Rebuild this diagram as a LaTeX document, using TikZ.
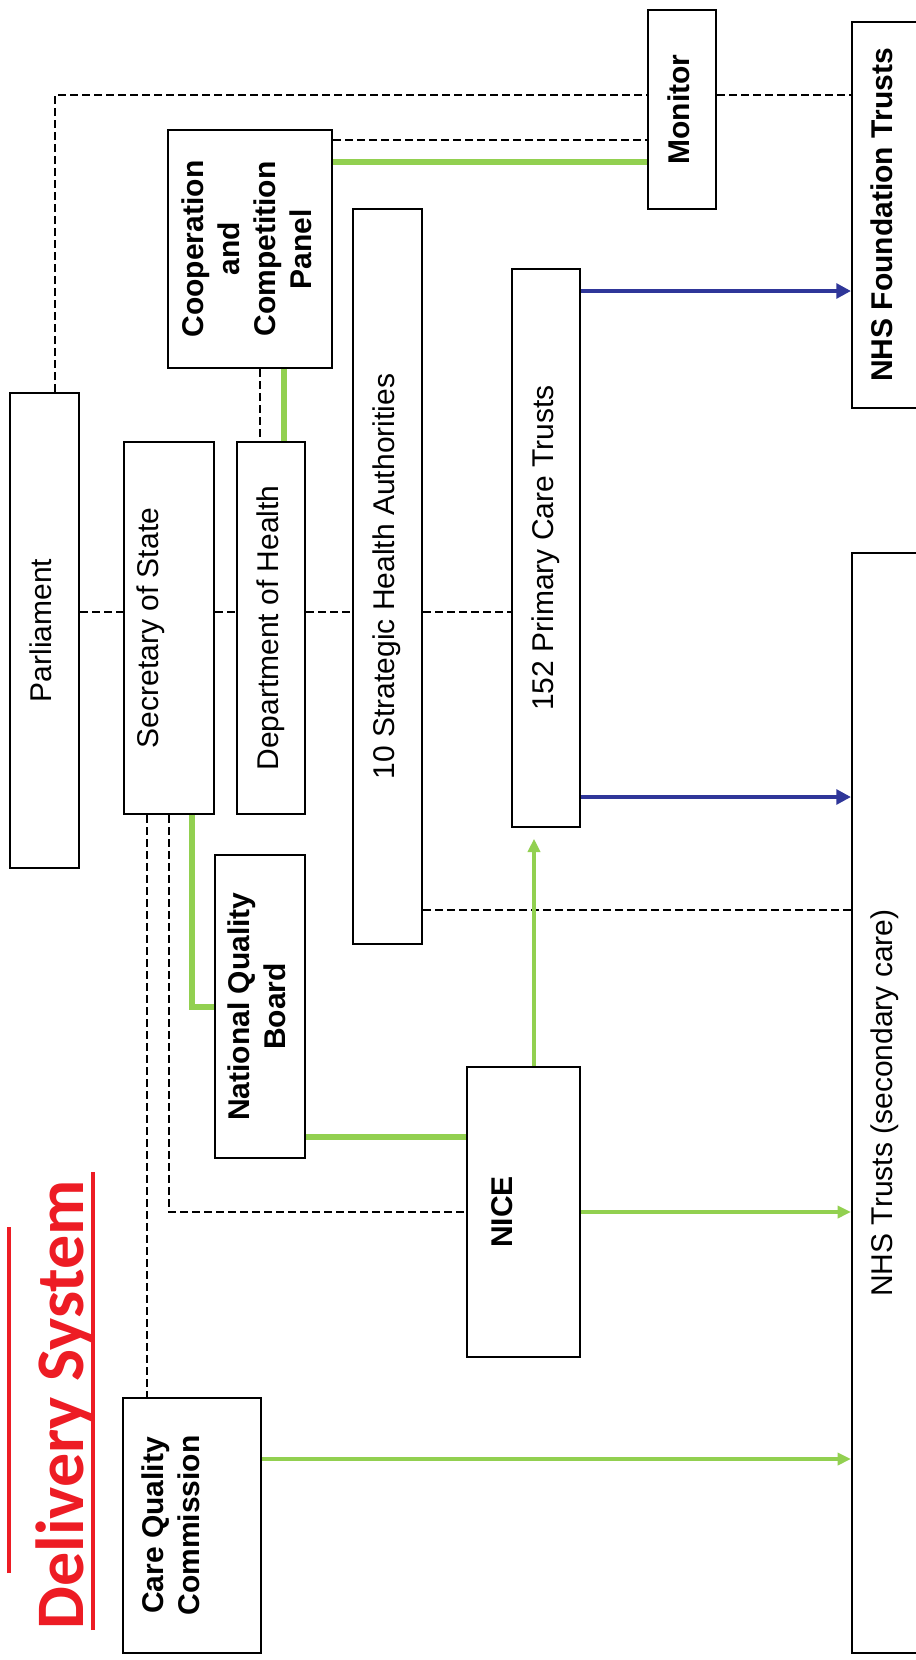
\documentclass[tikz,border=0pt]{standalone}
\usepackage{fontspec}
\setmainfont{Liberation Sans}
\newfontfamily\titlefont{Carlito}
\usetikzlibrary{arrows.meta}
\definecolor{nhsgreen}{RGB}{146,208,80}
\definecolor{nhsblue}{RGB}{47,54,153}
\definecolor{nhsred}{RGB}{237,28,36}
\def\vtext#1{\rotatebox{90}{\begin{tabular}{@{}c@{}}#1\end{tabular}}}

\begin{document}
\begin{tikzpicture}[x=0.75pt,y=0.75pt,yscale=-1,xscale=1,
	box/.style={draw, line width=1.5pt, fill=white, inner sep=0pt, font=\fontsize{22.5}{27}\selectfont},
	boldbox/.style={box, font=\fontsize{22.5}{27}\selectfont\bfseries},
	dline/.style={line width=1.5pt, dash pattern=on 6pt off 3pt},
	gline/.style={nhsgreen, line width=4.5pt},
	garrow/.style={nhsgreen, line width=3pt, -{Triangle[length=10pt,width=9pt]}},
	barrow/.style={nhsblue, line width=3.5pt, -{Triangle[length=11pt,width=11pt]}}]
		\useasboundingbox (0,0) rectangle (916,1660);
		\clip (0,0) rectangle (916,1660);
		% title
		\node[rotate=90, anchor=base west, inner sep=0pt, text=nhsred, font=\titlefont\bfseries\fontsize{51}{60}\selectfont] (title) at (83,1630) {Delivery System};
		\draw[nhsred, line width=3.5pt] (93,1630) -- (93,1172);
		\draw[nhsred, line width=3.5pt] (9,1573) -- (9,1227);
		% boxes
		\node[box, minimum width=51.75pt, minimum height=356.25pt] (parl) at (44.5,630.5) {\vtext{Parliament}};
		\node[box, minimum width=67.5pt, minimum height=279pt] (sos) at (169,628) {\vtext{Secretary of State\\~}};
		\node[box, minimum width=51pt, minimum height=279pt] (doh) at (271,628) {\vtext{Department of Health}};
		\node[boldbox, minimum width=123pt, minimum height=178.5pt] (ccp) at (250,249) {\vtext{Cooperation\\and\\Competition\\Panel}};
		\node[box, minimum width=51.75pt, minimum height=551.25pt] (sha) at (387.5,576.5) {\vtext{10 Strategic Health Authorities}};
		\node[box, minimum width=51pt, minimum height=418.5pt] (pct) at (546,548) {\vtext{152 Primary Care Trusts}};
		\node[boldbox, minimum width=51pt, minimum height=149.25pt] (mon) at (682,109.5) {\vtext{Monitor}};
		\node[boldbox, minimum width=50.25pt, minimum height=289.5pt] (nhsft) at (885.5,215) {\vtext{NHS Foundation Trusts}};
		\node[box, minimum width=50.25pt, minimum height=825pt] (nhst) at (885.5,1103) {\vtext{NHS Trusts (secondary care)}};
		\node[boldbox, minimum width=67.5pt, minimum height=227.25pt] (nqb) at (260,1006.5) {\vtext{National Quality\\Board}};
		\node[boldbox, minimum width=84.75pt, minimum height=217.5pt] (nice) at (523.5,1212) {\vtext{NICE\\~}};
		\node[boldbox, minimum width=103.5pt, minimum height=191.25pt] (cqc) at (192,1525.5) {\vtext{Care Quality\\Commission\\~}};
		% accountability (dashed)
		\draw[dline] (parl.north -| 55,0) |- (mon.west |- 0,95);
		\draw[dline] (mon.east |- 0,95) -- (nhsft.west |- 0,95);
		\foreach \a/\b in {parl/sos,sos/doh,doh/sha,sha/pct}
			\draw[dline] (\a.east |- 0,612) -- (\b.west |- 0,612);
		\draw[dline] (ccp.east |- 0,140) -- (mon.west |- 0,140);
		\draw[dline] (ccp.south -| 260,0) -- (doh.north -| 260,0);
		\draw[dline] (sos.south -| 147,0) -- (cqc.north -| 147,0);
		\draw[dline] (sos.south -| 169,0) |- (nice.west);
		\draw[dline] (sha.east |- 0,910) -- (nhst.west |- 0,910);
		% green links
		\draw[gline] (ccp.east |- 0,162) -- (mon.west |- 0,162);
		\draw[gline] (ccp.south -| 284,0) -- (doh.north -| 284,0);
		\draw[gline] (sos.south -| 192,0) |- (nqb.west);
		\draw[gline] (nqb.east |- 0,1137) -- (nice.west |- 0,1137);
		\draw[garrow, shorten >=8pt] (nice.north -| 534,0) -- (pct.south -| 534,0);
		\draw[garrow] (nice.east) -- (nhst.west |- nice.east);
		\draw[garrow] (cqc.east |- 0,1459) -- (nhst.west |- 0,1459);
		% commissioning (blue)
		\draw[barrow] (pct.east |- 0,291) -- (nhsft.west |- 0,291);
		\draw[barrow] (pct.east |- 0,797) -- (nhst.west |- 0,797);
\end{tikzpicture}
\end{document}
